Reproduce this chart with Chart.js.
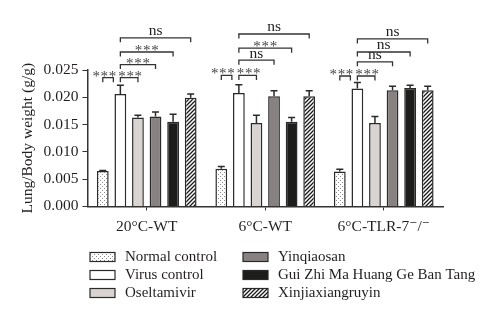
<!DOCTYPE html>
<html lang="en">
<head>
    <meta charset="UTF-8">
    <title>Lung/Body weight</title>
    <style>
        body { margin: 0; background: #fff; }
        #chartBlock { width: 500px; height: 325px; }
    </style>
</head>
<body>
    <div id="chartBlock">
        <canvas id="myChart" width="500" height="325"></canvas>
    </div>

<script src="https://cdn.jsdelivr.net/npm/chart.js@4.4.0/dist/chart.umd.min.js"></script>
<script>
    // data
    var groups = ['20°C-WT', '6°C-WT', '6°C-TLR-7⁻/⁻'];
    var seriesNames = ['Normal control', 'Virus control', 'Oseltamivir', 'Yinqiaosan', 'Gui Zhi Ma Huang Ge Ban Tang', 'Xinjiaxiangruyin'];

    var normalControl = [0.0065, 0.0069, 0.0064];
    var virusControl  = [0.0206, 0.0208, 0.0216];
    var oseltamivir   = [0.0163, 0.0153, 0.0153];
    var yinqiaosan    = [0.0165, 0.0202, 0.0213];
    var guiZhi        = [0.0155, 0.0155, 0.0217];
    var xinjia        = [0.0199, 0.0202, 0.0213];

    var normalErr = [0.0001, 0.0004, 0.0004];
    var virusErr  = [0.0016, 0.0015, 0.0011];
    var oselErr   = [0.0004, 0.0014, 0.0012];
    var yinqErr   = [0.0008, 0.0010, 0.0007];
    var guiErr    = [0.0014, 0.0008, 0.0005];
    var xinjErr   = [0.0007, 0.0010, 0.0007];

    // [group, from bar, to bar, level (g/g), label]
    var brackets = [
        [0, 0, 1, 0.0236, '***'], [0, 1, 2, 0.0236, '***'], [0, 1, 3, 0.0260, '***'], [0, 1, 4, 0.0283, '***'], [0, 1, 5, 0.0309, 'ns'],
        [1, 0, 1, 0.0240, '***'], [1, 1, 2, 0.0240, '***'], [1, 1, 3, 0.0268, 'ns'],  [1, 1, 4, 0.0290, '***'], [1, 1, 5, 0.0316, 'ns'],
        [2, 0, 1, 0.0239, '***'], [2, 1, 2, 0.0239, '***'], [2, 1, 3, 0.0265, 'ns'],  [2, 1, 4, 0.0283, 'ns'],  [2, 1, 5, 0.0307, 'ns']
    ];

    var values = [normalControl, virusControl, oseltamivir, yinqiaosan, guiZhi, xinjia];
    var errors = [normalErr, virusErr, oselErr, yinqErr, guiErr, xinjErr];

    var inkColor = '#231f20';
    var serif = "'Liberation Serif', 'DejaVu Serif', serif";

    function makePattern(kind) {
        var c = document.createElement('canvas');
        var g = c.getContext('2d');
        if (kind == 'dots') {
            c.width = 4; c.height = 4;
            g.fillStyle = '#ffffff';
            g.fillRect(0, 0, 4, 4);
            g.fillStyle = '#8a8a8a';
            g.fillRect(0, 0, 1, 1);
            g.fillRect(2, 2, 1, 1);
        } else {
            c.width = 4; c.height = 4;
            g.fillStyle = '#ffffff';
            g.fillRect(0, 0, 4, 4);
            g.strokeStyle = '#1a1a1a';
            g.lineWidth = 1.3;
            g.beginPath();
            g.moveTo(-1, 5); g.lineTo(5, -1);
            g.moveTo(-1, 1); g.lineTo(1, -1);
            g.moveTo(3, 5); g.lineTo(5, 3);
            g.stroke();
        }
        return g.createPattern(c, 'repeat');
    }

    var fills = [makePattern('dots'), '#ffffff', '#d9d4d2', '#878281', '#1d1d1b', makePattern('hatch')];

    var errorBars = {
        id: 'errorBars',
        afterDatasetsDraw: function (chart) {
            var ctx = chart.ctx;
            var yScale = chart.scales.y;
            ctx.save();
            ctx.strokeStyle = '#2a2a2a';
            ctx.lineWidth = 1.5;
            for (var d = 0; d < values.length; d++) {
                var meta = chart.getDatasetMeta(d);
                meta.data.forEach(function (bar, i) {
                    var top = yScale.getPixelForValue(values[d][i] + errors[d][i]);
                    ctx.beginPath();
                    ctx.moveTo(bar.x, bar.y);
                    ctx.lineTo(bar.x, top);
                    ctx.moveTo(bar.x - 3.5, top);
                    ctx.lineTo(bar.x + 3.5, top);
                    ctx.stroke();
                });
            }
            ctx.restore();
        }
    };

    var sigBrackets = {
        id: 'sigBrackets',
        afterDraw: function (chart) {
            var ctx = chart.ctx;
            var yScale = chart.scales.y;
            ctx.save();
            ctx.strokeStyle = '#333';
            ctx.lineWidth = 1.3;
            ctx.fillStyle = inkColor;
            ctx.textAlign = 'center';
            ctx.textBaseline = 'alphabetic';
            brackets.forEach(function (b) {
                var x1 = chart.getDatasetMeta(b[1]).data[b[0]].x;
                var x2 = chart.getDatasetMeta(b[2]).data[b[0]].x;
                var y = yScale.getPixelForValue(b[3]);
                var mid = (x1 + x2) / 2;
                // bracket ending on the virus bar stops short so it doesn't meet the next one
                if (b[2] == 1) {
                    mid = x2 - 16;
                    x2 = x2 - 7;
                } else if (b[2] == 2) {
                    mid = mid + 1;
                }
                ctx.beginPath();
                ctx.moveTo(x1, y + 4.5);
                ctx.lineTo(x1, y);
                ctx.lineTo(x2, y);
                ctx.lineTo(x2, y + 4.5);
                ctx.stroke();
                if (b[4] == 'ns') {
                    ctx.font = '15.5px ' + serif;
                    ctx.fillText('ns', mid, y - 2.5);
                } else {
                    ctx.font = '15px ' + serif;
                    ctx.fillStyle = '#444';
                    for (var k = -1; k <= 1; k++) {
                        ctx.fillText('*', mid + k * 8.2, y + 3);
                    }
                    ctx.fillStyle = inkColor;
                }
            });
            ctx.restore();
        }
    };

    var sideLegend = {
        id: 'sideLegend',
        afterDraw: function (chart) {
            var ctx = chart.ctx;
            var cols = [90, 243];
            var rows = [257, 275, 293];
            ctx.save();
            ctx.font = '15px ' + serif;
            ctx.textBaseline = 'middle';
            ctx.textAlign = 'left';
            chart.data.datasets.forEach(function (ds, i) {
                var x = cols[Math.floor(i / 3)];
                var y = rows[i % 3];
                ctx.fillStyle = ds.backgroundColor;
                ctx.fillRect(x, y - 4.5, 25, 9);
                ctx.strokeStyle = '#2a2a2a';
                ctx.lineWidth = 1.2;
                ctx.strokeRect(x, y - 4.5, 25, 9);
                ctx.fillStyle = inkColor;
                ctx.fillText(ds.label, x + 35, y);
            });
            ctx.restore();
        }
    };

    var datasets = [];
    for (var i = 0; i < seriesNames.length; i++) {
        datasets.push({
            label: seriesNames[i],
            data: values[i],
            backgroundColor: fills[i],
            borderColor: '#2a2a2a',
            borderWidth: 1.5,
            barPercentage: 0.67,
            categoryPercentage: 0.89
        });
    }

    var ctx = document.getElementById('myChart').getContext('2d');
    var newBarChart = new Chart(ctx, {
        type: 'bar',
        data: { labels: groups, datasets: datasets },
        options: {
            responsive: false,
            animation: false,
            layout: { padding: { top: 70, right: 57, bottom: 82, left: 17 } },
            plugins: {
                legend: { display: false },
                tooltip: { enabled: false }
            },
            scales: {
                x: {
                    grid: { drawOnChartArea: false, offset: false, tickLength: 4, color: '#333' },
                    border: { color: '#333', width: 1.5 },
                    ticks: { color: inkColor, font: { family: serif, size: 15.5 }, padding: 7 }
                },
                y: {
                    min: 0,
                    max: 0.025,
                    grid: { drawOnChartArea: false, tickLength: 5, color: '#333' },
                    border: { color: '#333', width: 1.5 },
                    ticks: {
                        stepSize: 0.005,
                        color: inkColor,
                        font: { family: serif, size: 15.5 },
                        padding: 4,
                        callback: function (v) { return v.toFixed(3); }
                    },
                    title: {
                        display: true,
                        text: 'Lung/Body weight (g/g)',
                        color: inkColor,
                        font: { family: serif, size: 15.5 },
                        padding: 2
                    }
                }
            }
        },
        plugins: [errorBars, sigBrackets, sideLegend]
    });
</script>
</body>
</html>
